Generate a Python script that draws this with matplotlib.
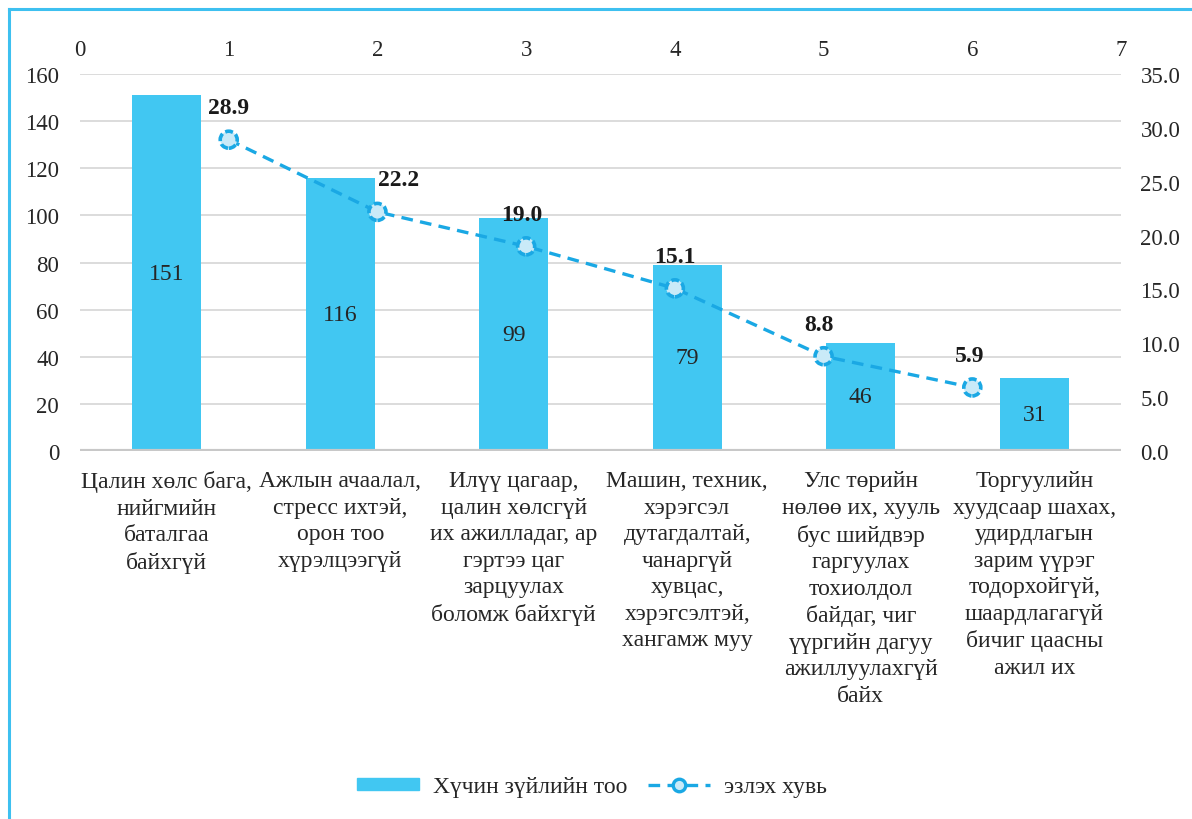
import matplotlib
matplotlib.use("Agg")
import matplotlib.pyplot as plt
from matplotlib.lines import Line2D
import numpy as np

categories = [
    "Цалин хөлс бага,\nнийгмийн\nбаталгаа\nбайхгүй",
    "Ажлын ачаалал,\nстресс ихтэй,\nорон тоо\nхүрэлцээгүй",
    "Илүү цагаар,\nцалин хөлсгүй\nих ажилладаг, ар\nгэртээ цаг\nзарцуулах\nболомж байхгүй",
    "Машин, техник,\nхэрэгсэл\nдутагдалтай,\nчанаргүй\nхувцас,\nхэрэгсэлтэй,\nхангамж муу",
    "Улс төрийн\nнөлөө их, хууль\nбус шийдвэр\nгаргуулах\nтохиолдол\nбайдаг, чиг\nүүргийн дагуу\nажиллуулахгүй\nбайх",
    "Торгуулийн\nхуудсаар шахах,\nудирдлагын\nзарим үүрэг\nтодорхойгүй,\nшаардлагагүй\nбичиг цаасны\nажил их",
]
counts = [151, 116, 99, 79, 46, 31]
line_x = [1, 2, 3, 4, 5, 6]
percents = [28.9, 22.2, 19.0, 15.1, 8.8, 5.9]
left_ticks = [0, 20, 40, 60, 80, 100, 120, 140, 160]
right_ticks = [0, 5, 10, 15, 20, 25, 30, 35]
top_ticks = [0, 1, 2, 3, 4, 5, 6, 7]
bar_name = "Хүчин зүйлийн тоо"
line_name = "эзлэх хувь"

plt.rcParams['font.family'] = ['Liberation Serif', 'DejaVu Serif']
FS_TICK = 16.5
FS = 17
TXT = '#262626'
BAR_C = '#41C7F2'
LINE_C = '#1AA8E4'
FACE_C = '#C9EAF8'
GRID_C = '#D9D9D9'
DASH = (0, (3.5, 2.2))

fig = plt.figure(figsize=(11.92, 8.2), dpi=100)
rect = [80/1192, 1-452/820, (1121-80)/1192, (452-75)/820]
ax = fig.add_axes(rect)
ax2 = fig.add_axes(rect, frameon=False)

x = np.arange(len(categories))
bars = ax.bar(x, counts, width=0.4, color=BAR_C, zorder=2)
ax.set_xlim(-0.5, len(categories) - 0.5)
ax.set_ylim(0, 160)
ax.set_yticks(left_ticks)
ax.set_xticks(x)
ax.set_xticklabels(categories, fontsize=FS, color=TXT, linespacing=1.34, va='top')
ax.tick_params(axis='x', length=0, pad=14)
ax.tick_params(axis='y', length=0, pad=15, labelsize=FS_TICK, labelcolor=TXT)
for s in ax.spines.values():
    s.set_visible(False)
ax.grid(axis='y', color=GRID_C, linewidth=1.3, zorder=0)
ax.axhline(0, color='#C8C8C8', linewidth=3, zorder=3)
for b, v in zip(bars, counts):
    ax.text(b.get_x() + b.get_width()/2, v/2, str(v), ha='center', va='center',
            fontsize=FS, color=TXT, zorder=4)

ax2.set_xlim(0, 7)
ax2.set_ylim(0, 35)
ax2.set_xticks(top_ticks)
ax2.set_yticks(right_ticks)
ax2.set_yticklabels([f"{t:.1f}" for t in right_ticks])
ax2.xaxis.tick_top()
ax2.yaxis.tick_right()
ax2.tick_params(axis='x', length=0, pad=10, labelsize=FS_TICK, labelcolor=TXT)
ax2.tick_params(axis='y', length=0, pad=14, labelsize=FS_TICK, labelcolor=TXT)
ax2.plot(line_x, percents, linestyle=DASH, color=LINE_C, linewidth=2.4, zorder=5)
ax2.scatter(line_x, percents, s=150, facecolor=FACE_C, edgecolor=LINE_C,
            linewidths=2.6, linestyles=(0, (2.2, 0.9)), zorder=6)
label_dx = [0, 15, -3, 0, -3, -2]
for xi, v, dx in zip(line_x, percents, label_dx):
    ax2.annotate(f"{v:.1f}", (xi, v), xytext=(dx, 23), textcoords='offset points',
                 ha='center', va='center', fontsize=FS, fontweight='bold', color='#1A1A1A')

handles = [plt.Rectangle((0, 0), 1, 1, color=BAR_C),
           Line2D([0], [0], linestyle=DASH, color=LINE_C, linewidth=2.4,
                  marker='o', markersize=9, markerfacecolor=FACE_C,
                  markeredgecolor=LINE_C, markeredgewidth=2.4)]
leg = fig.legend(handles, [bar_name, line_name], loc='center', bbox_to_anchor=(592/1192, 1-788/820),
                 ncol=2, frameon=False, fontsize=FS, handlelength=2.6, handleheight=0.45,
                 columnspacing=0.9, handletextpad=0.6)
for t in leg.get_texts():
    t.set_color(TXT)

# figure frame lines (top and left)
fig.add_artist(Line2D([9/1192, 9/1192], [0, 1-10/820], color='#3EC0F0', linewidth=2.2,
                      transform=fig.transFigure))
fig.add_artist(Line2D([9/1192, 1], [1-10/820, 1-10/820], color='#3EC0F0', linewidth=2.2,
                      transform=fig.transFigure))

fig.savefig("out.png", dpi=100)
